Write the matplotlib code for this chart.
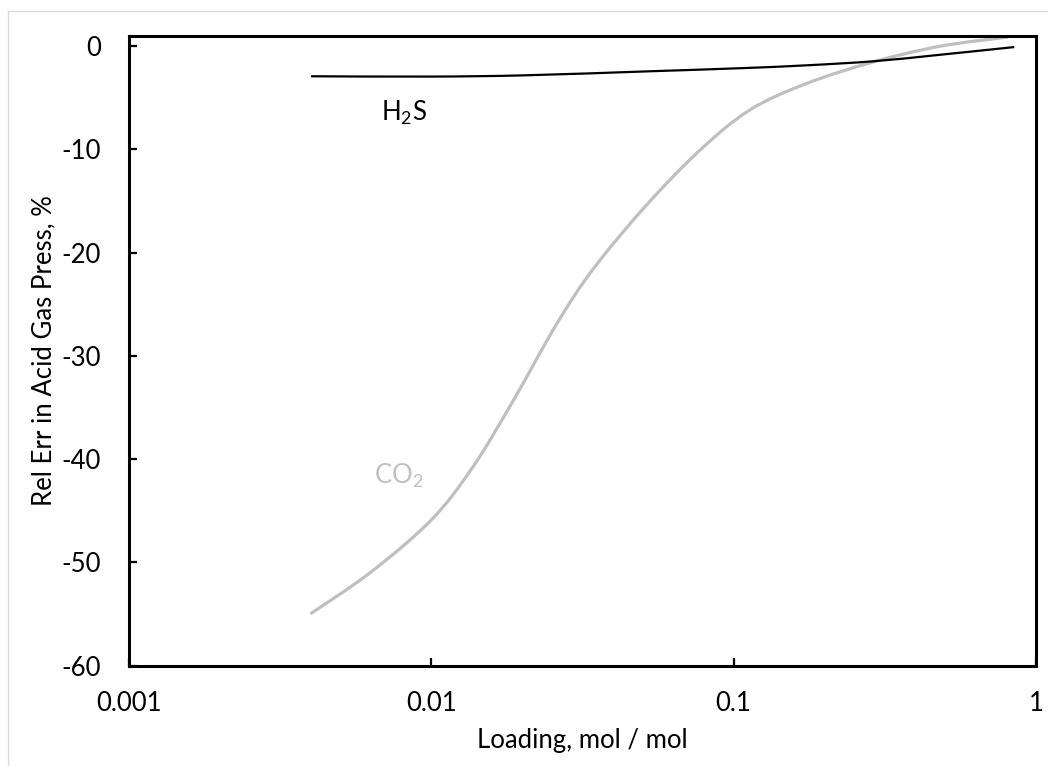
import matplotlib
matplotlib.use("Agg")
import numpy as np
import matplotlib.pyplot as plt
from matplotlib.lines import Line2D
from matplotlib.path import Path
from matplotlib.patches import PathPatch
from matplotlib.ticker import FixedLocator, FixedFormatter, NullLocator

plt.rcParams['font.family'] = ['Lato', 'DejaVu Sans']
plt.rcParams['axes.unicode_minus'] = False

# Loading (mol / mol) and relative error in acid gas pressure (%)
co2_loading = [0.00398, 0.00628, 0.0100, 0.0137, 0.0187, 0.0260, 0.0343,
               0.0515, 0.0773, 0.113, 0.174, 0.289, 0.48, 0.807]
co2_err = [-55.0, -51.0, -45.9, -40.8, -34.3, -26.9, -21.6,
           -15.4, -10.1, -6.2, -3.64, -1.55, -0.03, 0.87]

h2s_loading = [0.0040, 0.0100, 0.0203, 0.0523, 0.105, 0.174, 0.289, 0.47,
               0.848]
h2s_err = [-2.93, -2.96, -2.84, -2.45, -2.15, -1.87, -1.48, -0.88, -0.10]

x_ticks = [0.001, 0.01, 0.1, 1]
x_tick_labels = ['0.001', '0.01', '0.1', '1']
y_ticks = [-60, -50, -40, -30, -20, -10, 0]
y_tick_labels = ['-60', '-50', '-40', '-30', '-20', '-10', '0']


def smoothed_path(xs, ys):
    """Smoothed line through the points (Catmull-Rom Bezier segments,
    built in log-x space so they stay smooth on the log axis)."""
    lx = np.log10(np.asarray(xs, float))
    y = np.asarray(ys, float)
    P = np.column_stack([lx, y])
    P = np.vstack([P[0], P, P[-1]])
    verts = [P[1]]
    codes = [Path.MOVETO]
    for i in range(1, len(P) - 2):
        c1 = P[i] + (P[i + 1] - P[i - 1]) / 6.0
        c2 = P[i + 1] - (P[i + 2] - P[i]) / 6.0
        verts += [c1, c2, P[i + 1]]
        codes += [Path.CURVE4] * 3
    verts = np.array(verts)
    verts[:, 0] = 10 ** verts[:, 0]
    return Path(verts, codes)


fig = plt.figure(figsize=(10.48, 7.66), dpi=100)
ax = fig.add_axes([0.1231, 0.1312, 0.8654, 0.8222])

ax.set_xscale('log')
ax.set_xlim(0.001, 1)
ax.set_ylim(-60, 1)

ax.add_patch(PathPatch(smoothed_path(co2_loading, co2_err), fill=False,
                       edgecolor='#BFBFBF', lw=2.3, capstyle='butt'))
ax.add_patch(PathPatch(smoothed_path(h2s_loading, h2s_err), fill=False,
                       edgecolor='black', lw=1.6, capstyle='butt'))

ax.xaxis.set_major_locator(FixedLocator(x_ticks))
ax.xaxis.set_major_formatter(FixedFormatter(x_tick_labels))
ax.xaxis.set_minor_locator(NullLocator())
ax.yaxis.set_major_locator(FixedLocator(y_ticks))
ax.yaxis.set_major_formatter(FixedFormatter(y_tick_labels))

for s in ax.spines.values():
    s.set_linewidth(2.2)
    s.set_color('black')

fs = 18.5
ax.tick_params(axis='both', direction='in', length=6, width=1.6,
               labelsize=fs, colors='black')
ax.tick_params(axis='x', pad=18)
ax.tick_params(axis='y', pad=20)

ax.set_xlabel('Loading, mol / mol', fontsize=fs, labelpad=9)
ax.set_ylabel('Rel Err in Acid Gas Press, %', fontsize=fs, labelpad=4)

ax.text(0.0081, -6.5, r'$\mathregular{H_2S}$', fontsize=fs, color='black',
        ha='center', va='center')
ax.text(0.0078, -41.6, r'$\mathregular{CO_2}$', fontsize=fs, color='#BFBFBF',
        ha='center', va='center')

# light chart-area border along the left and top edges
fig.add_artist(Line2D([8 / 1048, 8 / 1048], [0, 1 - 11 / 766],
                      transform=fig.transFigure, color='#D9D9D9', lw=1))
fig.add_artist(Line2D([8 / 1048, 1], [1 - 11 / 766, 1 - 11 / 766],
                      transform=fig.transFigure, color='#D9D9D9', lw=1))

fig.savefig('out.png', dpi=100, facecolor='white')
